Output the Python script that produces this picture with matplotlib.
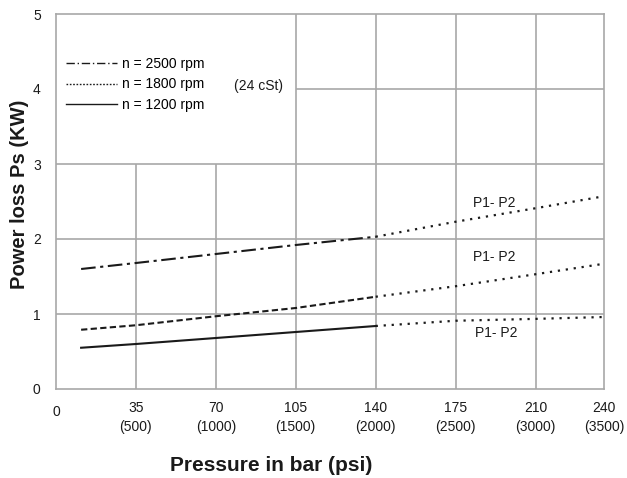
import matplotlib.pyplot as plt
import numpy as np

plt.rcParams['font.family'] = ['Liberation Sans', 'DejaVu Sans']

# pressure in bar (measured portion and extrapolated portion)
p_meas = [11, 35, 70, 105, 140]
p_ext = [140, 175, 210, 240]

rpm2500 = [1.60, 1.68, 1.80, 1.92, 2.03]
rpm2500_ext = [2.03, 2.23, 2.41, 2.57]
rpm1800 = [0.79, 0.85, 0.97, 1.08, 1.23]
rpm1800_ext = [1.23, 1.37, 1.53, 1.67]
rpm1200 = [0.55, 0.60, 0.68, 0.76, 0.84]
rpm1200_ext = [0.84, 0.91, 0.935, 0.96]

xticks = [35, 70, 105, 140, 175, 210, 240]
psi = [500, 1000, 1500, 2000, 2500, 3000, 3500]
yticks = [0, 1, 2, 3, 4, 5]

fig = plt.figure(figsize=(6.27, 4.78), dpi=100)
ax = fig.add_axes([56/627, 1-389/478, (604-56)/627, (389-14)/478])

gc = '#a8a8a8'
# irregular grid: upper-left block left empty for the legend
ax.vlines([35, 70], 0, 3, color=gc, lw=1.2, zorder=0)
ax.vlines([105, 140, 175, 210], 0, 5, color=gc, lw=1.2, zorder=0)
ax.hlines([1, 2, 3], 0, 240, color=gc, lw=1.2, zorder=0)
ax.hlines([4], 105, 240, color=gc, lw=1.2, zorder=0)
for s in ax.spines.values():
    s.set_color(gc)
    s.set_linewidth(1.2)

k = '#1a1a1a'
dot = (0, (1, 2.6))
ax.plot(p_meas, rpm2500, color=k, lw=1.5, ls=(0, (7, 2.2, 1.5, 2.2)), label='n = 2500 rpm')
ax.plot(p_meas, rpm1800, color=k, lw=1.5, ls=(0, (3, 1.6)), label='n = 1800 rpm')
ax.plot(p_meas, rpm1200, color=k, lw=1.5, ls='-', label='n = 1200 rpm')
ax.plot(p_ext, rpm2500_ext, color=k, lw=1.6, ls=dot)
ax.plot(p_ext, rpm1800_ext, color=k, lw=1.6, ls=dot)
ax.plot(p_ext, rpm1200_ext, color=k, lw=1.6, ls=dot)

leg = ax.legend(loc='upper left', bbox_to_anchor=(0.0, 0.912), frameon=False,
                fontsize=10, handlelength=3.7, handletextpad=0.35, labelspacing=0.48,
                borderaxespad=0.3)
# thinner samples in the legend, like the original
hl = leg.get_lines()
for h in hl:
    h.set_linewidth(1.0)
hl[0].set_linestyle((0, (6, 2, 1, 2)))
hl[1].set_linestyle((0, (1.2, 1.2)))
ax.text(78, 4.04, '(24 cSt)', fontsize=10, color=k, va='center')

ax.text(192, 2.48, 'P1- P2', fontsize=10, color=k, ha='center', va='center')
ax.text(192, 1.76, 'P1- P2', fontsize=10, color=k, ha='center', va='center')
ax.text(193, 0.75, 'P1- P2', fontsize=10, color=k, ha='center', va='center')

ax.set_xlim(0, 240)
ax.set_ylim(0, 5)
ax.set_xticks([0] + xticks)
ax.set_xticklabels(['0'] + ['%d\n(%d)' % (b, p) for b, p in zip(xticks, psi)],
                   fontsize=10, color=k, linespacing=1.4)
ax.get_xticklabels()[0].set_y(-0.008)
ax.set_yticks(yticks)
ax.set_yticklabels([str(v) for v in yticks], fontsize=10, color=k)
ax.tick_params(axis='x', length=0, pad=9)
ax.tick_params(axis='y', length=0, pad=11)

ax.set_xlabel('Pressure in bar (psi)', fontsize=15, fontweight='bold', color=k)
ax.set_ylabel('Power loss Ps (KW)', fontsize=14.5, fontweight='bold', color=k)
ax.xaxis.set_label_coords(0.392, -0.203)
ax.yaxis.set_label_coords(-0.066, 0.52)
ax.xaxis.label.set_va('center')
ax.yaxis.label.set_va('center')

fig.savefig('out.png', dpi=100)
